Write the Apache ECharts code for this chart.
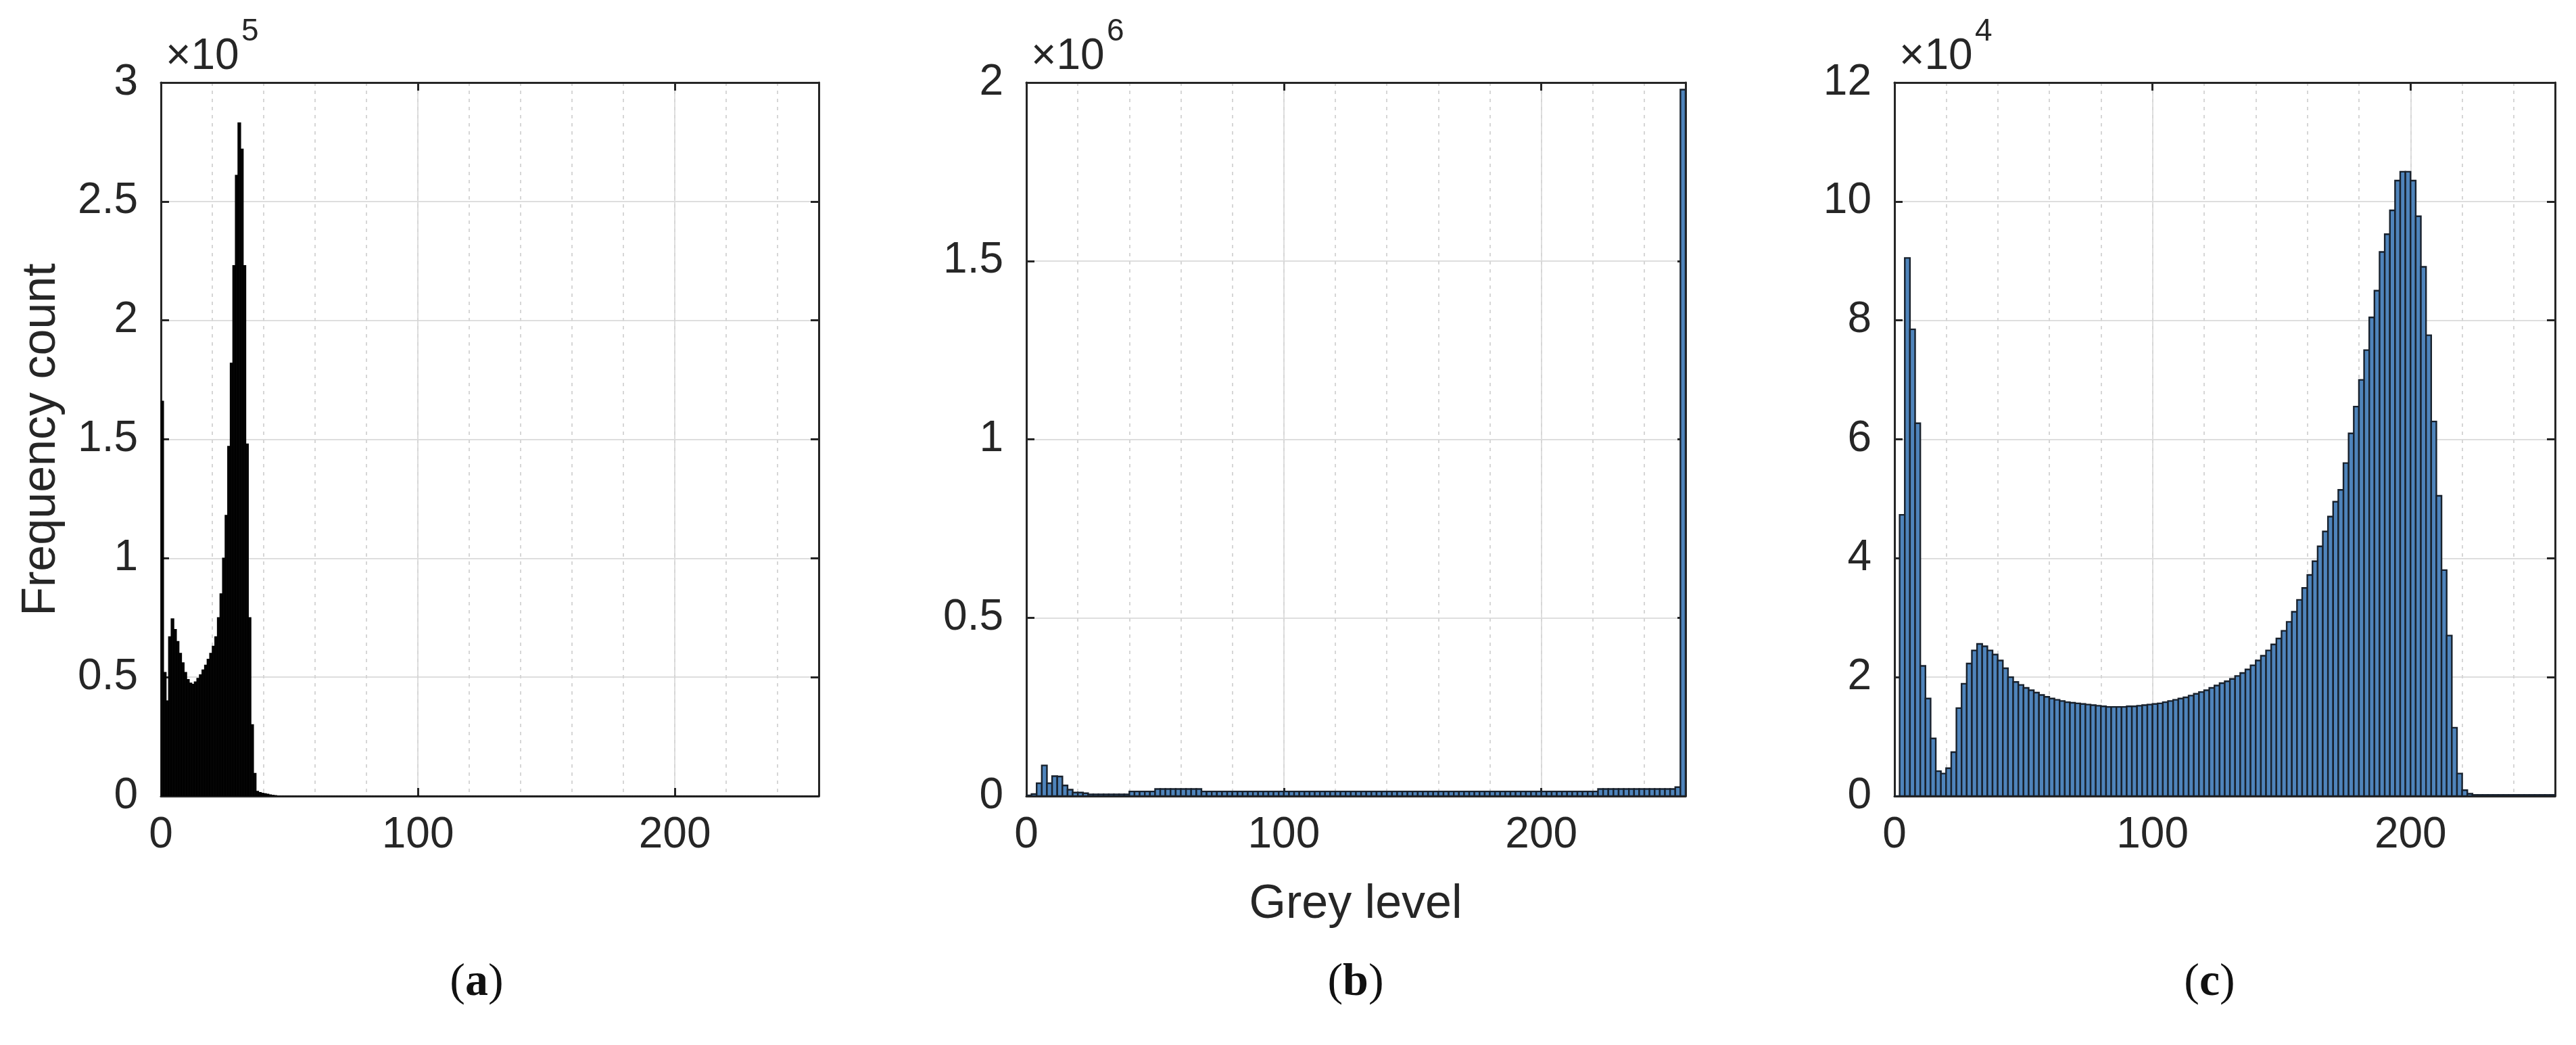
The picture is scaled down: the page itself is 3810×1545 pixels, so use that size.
<!DOCTYPE html>
<html><head><meta charset="utf-8">
<script src="https://cdn.jsdelivr.net/npm/echarts@6/dist/echarts.min.js"></script>
<style>html,body{margin:0;padding:0;background:#fff}#c{width:3810px;height:1545px}</style>
</head><body><div id="c"></div>
<script>
// ---- data ----
const greyLevelTicks = [0, 100, 200];
const xMax = 256;
const binWidthA = 1, binWidthB = 2, binWidthC = 2;
// (a) frequency counts, units of 10^5, bin width 1
const countsA = [
 1.66,0.52,0.40,0.67,0.745,0.70,0.65,0.60,0.56,0.52,0.49,0.475,0.47,0.48,0.495,0.51,
 0.53,0.55,0.575,0.60,0.63,0.67,0.75,0.85,1.00,1.18,1.47,1.82,2.23,2.61,2.83,2.72,
 2.23,1.48,0.75,0.30,0.095,0.02,0.015,0.012,0.01,0.008,0.005,0.003,0.002,0,0,0,
 0,0,0,0,0,0,0,0,0,0,0,0,0,0,0,0,
 0,0,0,0,0,0,0,0,0,0,0,0,0,0,0,0,
 0,0,0,0,0,0,0,0,0,0,0,0,0,0,0,0,
 0,0,0,0,0,0,0,0,0,0,0,0,0,0,0,0,
 0,0,0,0,0,0,0,0,0,0,0,0,0,0,0,0,
 0,0,0,0,0,0,0,0,0,0,0,0,0,0,0,0,
 0,0,0,0,0,0,0,0,0,0,0,0,0,0,0,0,
 0,0,0,0,0,0,0,0,0,0,0,0,0,0,0,0,
 0,0,0,0,0,0,0,0,0,0,0,0,0,0,0,0,
 0,0,0,0,0,0,0,0,0,0,0,0,0,0,0,0,
 0,0,0,0,0,0,0,0,0,0,0,0,0,0,0,0,
 0,0,0,0,0,0,0,0,0,0,0,0,0,0,0,0,
 0,0,0,0,0,0,0,0,0,0,0,0,0,0,0,0
];
// (b) frequency counts, units of 10^6, bin width 2
const countsB = [
 0.002,0.006,0.036,0.086,0.036,0.056,0.055,0.030,0.018,0.010,0.010,0.008,0.005,0.005,0.005,0.005,
 0.005,0.005,0.005,0.005,0.013,0.013,0.013,0.013,0.013,0.020,0.020,0.020,0.020,0.020,0.020,0.020,
 0.020,0.020,0.013,0.013,0.013,0.013,0.013,0.013,0.013,0.013,0.013,0.013,0.013,0.013,0.013,0.013,
 0.013,0.013,0.013,0.013,0.013,0.013,0.013,0.013,0.013,0.013,0.013,0.013,0.013,0.013,0.013,0.013,
 0.013,0.013,0.013,0.013,0.013,0.013,0.013,0.013,0.013,0.013,0.013,0.013,0.013,0.013,0.013,0.013,
 0.013,0.013,0.013,0.013,0.013,0.013,0.013,0.013,0.013,0.013,0.013,0.013,0.013,0.013,0.013,0.013,
 0.013,0.013,0.013,0.013,0.013,0.013,0.013,0.013,0.013,0.013,0.013,0.013,0.013,0.013,0.013,0.020,
 0.020,0.020,0.020,0.020,0.020,0.020,0.020,0.020,0.020,0.020,0.020,0.020,0.020,0.020,0.025,1.98
];
// (c) frequency counts, units of 10^4, bin width 2
const countsC = [
 0,4.73,9.05,7.85,6.27,2.19,1.64,0.97,0.42,0.38,0.47,0.74,1.48,1.89,2.23,2.45,
 2.56,2.52,2.45,2.38,2.28,2.15,2.00,1.92,1.87,1.82,1.78,1.74,1.70,1.67,1.64,1.62,
 1.60,1.58,1.57,1.56,1.55,1.54,1.53,1.52,1.51,1.50,1.50,1.50,1.50,1.51,1.51,1.52,
 1.53,1.54,1.55,1.56,1.58,1.60,1.62,1.64,1.66,1.69,1.72,1.75,1.78,1.82,1.86,1.90,
 1.93,1.97,2.02,2.07,2.13,2.20,2.28,2.36,2.45,2.55,2.65,2.78,2.93,3.10,3.30,3.50,
 3.72,3.95,4.20,4.45,4.70,4.95,5.15,5.60,6.10,6.55,7.00,7.50,8.05,8.50,9.15,9.45,
 9.85,10.35,10.50,10.50,10.35,9.75,8.90,7.75,6.30,5.05,3.80,2.70,1.15,0.38,0.10,0.04,
 0.02,0.02,0.02,0.02,0.02,0.02,0.02,0.02,0.02,0.02,0.02,0.02,0.02,0.02,0.02,0.02
];
const yMaxA = 3, yStepA = 0.5, expA = '5';
const yMaxB = 2, yStepB = 0.5, expB = '6';
const yMaxC = 12, yStepC = 2, expC = '4';
const yTitle = 'Frequency count';
const xTitle = 'Grey level';
const panelLetters = ['a', 'b', 'c'];

// ---- layout / style ----
const FONT = 'Liberation Sans, Arial, Helvetica, sans-serif';
const INK = '#262626';
const panels = [
  {left: 238, top: 122, width: 973, height: 1055, counts: countsA, bw: binWidthA, ymax: yMaxA, ystep: yStepA, exp: expA, fill: '#050505', stroke: '#000000', lw: 1.5, labelX: 705},
  {left: 1518, top: 122, width: 975, height: 1055, counts: countsB, bw: binWidthB, ymax: yMaxB, ystep: yStepB, exp: expB, fill: '#4f84bb', stroke: '#18212c', lw: 2.4, labelX: 2005},
  {left: 2802, top: 122, width: 977, height: 1055, counts: countsC, bw: binWidthC, ymax: yMaxC, ystep: yStepC, exp: expC, fill: '#4f84bb', stroke: '#18212c', lw: 2.4, labelX: 3268}
];

const grid = [], xAxis = [], yAxis = [], series = [], graphic = [];
const axisLineStyle = {color: INK, width: 3};
panels.forEach((p, i) => {
  grid.push({left: p.left, top: p.top, width: p.width, height: p.height});
  xAxis.push({
    type: 'value', gridIndex: i, min: 0, max: xMax, interval: greyLevelTicks[1] - greyLevelTicks[0],
    position: 'bottom',
    axisLine: {show: true, onZero: false, lineStyle: axisLineStyle},
    axisTick: {show: true, inside: true, length: 12, lineStyle: axisLineStyle},
    axisLabel: {show: true, margin: 26, fontSize: 64, color: INK, fontFamily: FONT, showMaxLabel: false},
    splitLine: {show: true, lineStyle: {color: '#dedede', width: 2}}
  });
  xAxis.push({
    type: 'value', gridIndex: i, min: 0, max: xMax, interval: 20, position: 'bottom',
    axisLine: {show: false}, axisTick: {show: false}, axisLabel: {show: false},
    splitLine: {show: true, lineStyle: {color: '#d6d6d6', width: 2, type: [5, 7]}}
  });
  xAxis.push({
    type: 'value', gridIndex: i, min: 0, max: xMax, interval: 100, position: 'top',
    axisLine: {show: true, onZero: false, lineStyle: axisLineStyle},
    axisTick: {show: true, inside: true, length: 12, lineStyle: axisLineStyle},
    axisLabel: {show: false}, splitLine: {show: false}
  });
  yAxis.push({
    type: 'value', gridIndex: i, min: 0, max: p.ymax, interval: p.ystep, position: 'left',
    axisLine: {show: true, onZero: false, lineStyle: axisLineStyle},
    axisTick: {show: true, inside: true, length: 12, lineStyle: axisLineStyle},
    axisLabel: {show: true, margin: 34, fontSize: 64, color: INK, fontFamily: FONT},
    splitLine: {show: true, lineStyle: {color: '#dedede', width: 2}}
  });
  yAxis.push({
    type: 'value', gridIndex: i, min: 0, max: p.ymax, interval: p.ystep, position: 'right',
    axisLine: {show: true, onZero: false, lineStyle: axisLineStyle},
    axisTick: {show: true, inside: true, length: 12, lineStyle: axisLineStyle},
    axisLabel: {show: false}, splitLine: {show: false}
  });
  const data = p.counts.map((v, k) => [k * p.bw, (k + 1) * p.bw, v]);
  series.push({
    type: 'custom', xAxisIndex: 3 * i, yAxisIndex: 2 * i, data: data,
    encode: {x: [0, 1], y: 2}, clip: true, silent: true, z: 3,
    renderItem: (function (fill, stroke, lw) {
      return function (params, api) {
        const a = api.coord([api.value(0), api.value(2)]);
        const b = api.coord([api.value(1), 0]);
        return {type: 'rect', shape: {x: a[0], y: a[1], width: b[0] - a[0], height: b[1] - a[1]},
                style: {fill: fill, stroke: stroke, lineWidth: lw}};
      };
    })(p.fill, p.stroke, p.lw)
  });
  graphic.push({type: 'text', left: p.left + 7, top: 52, style: {text: '×10', font: '64px ' + FONT, fill: INK}, z: 10});
  graphic.push({type: 'text', left: p.left + 119, top: 24, style: {text: p.exp, font: '46px ' + FONT, fill: INK}, z: 10});
  graphic.push({type: 'text', x: p.labelX, y: 1453, style: {
    text: '{p|(}{b|' + panelLetters[i] + '}{p|)}', align: 'center', verticalAlign: 'middle',
    rich: {p: {fontSize: 68, fontFamily: 'Liberation Serif, DejaVu Serif, serif', fill: '#111'},
           b: {fontSize: 68, fontWeight: 'bold', fontFamily: 'Liberation Serif, DejaVu Serif, serif', fill: '#111'}}
  }, z: 10});
});
graphic.push({type: 'text', x: 62, y: 650, rotation: Math.PI / 2, style: {text: yTitle, font: '70px ' + FONT, fill: INK, align: 'center', verticalAlign: 'middle'}, z: 10});
graphic.push({type: 'text', x: 2005, y: 1338, style: {text: xTitle, font: '70px ' + FONT, fill: INK, align: 'center', verticalAlign: 'middle'}, z: 10});

const chart = echarts.init(document.getElementById('c'), null, {renderer: 'canvas'});
chart.setOption({backgroundColor: '#ffffff', animation: false, grid, xAxis, yAxis, series, graphic});
</script>
</body></html>
